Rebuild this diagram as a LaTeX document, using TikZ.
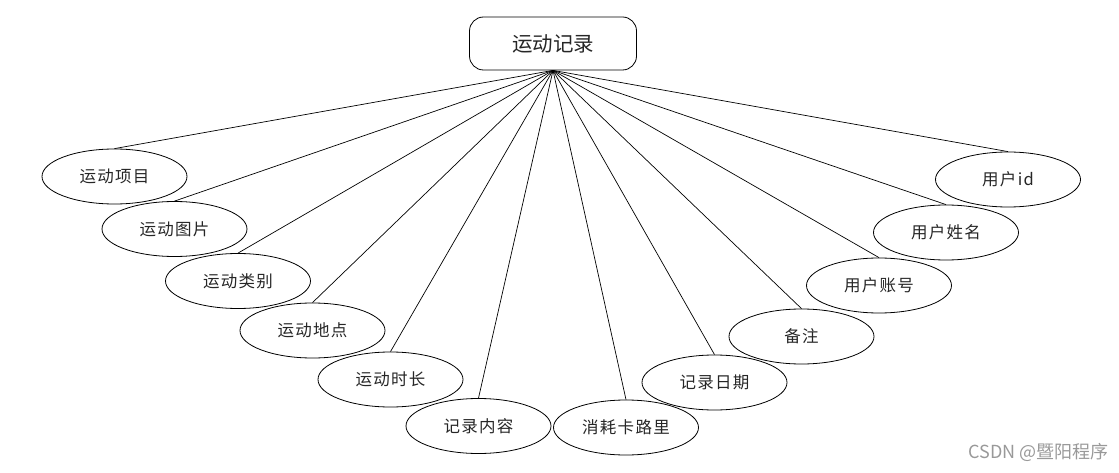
\documentclass[tikz,border=0pt]{standalone}
\usepackage{fontspec}
\newfontfamily\cjk{Noto Sans CJK SC}
\newfontfamily\cjksp[LetterSpace=8]{Noto Sans CJK SC}
\usetikzlibrary{shapes.geometric}
\begin{document}
\begin{tikzpicture}[x=1pt,y=-1pt,
  attr/.style={ellipse,draw,line width=0.8pt,minimum width=145pt,minimum height=55pt,inner sep=0pt,font=\cjksp\fontsize{16.5}{19}\selectfont,text=black!85},
  ent/.style={rectangle,rounded corners=14pt,draw,line width=0.8pt,minimum width=167pt,minimum height=53pt,font=\cjk\fontsize{20.5}{24}\selectfont,text=black!85},
  link/.style={line width=0.7pt},
  mark text/.style={font=\fontsize{18}{21}\selectfont\cjk,text=black!40}]
\useasboundingbox (0,0) rectangle (1119,473);
\node[ent] (e) at (553,43.5) {运动记录};
\node[attr] (a1) at (114.5,176.5) {运动项目};
\node[attr] (a2) at (174.5,229) {运动图片};
\node[attr] (a3) at (238,281) {运动类别};
\node[attr] (a4) at (312.5,330.5) {运动地点};
\node[attr] (a5) at (390.5,379.5) {运动时长};
\node[attr] (a6) at (478.5,426) {记录内容};
\node[attr] (a7) at (626,427.5) {消耗卡路里};
\node[attr] (a8) at (714.5,382.5) {记录日期};
\node[attr] (a9) at (801.5,336.5) {备注};
\node[attr] (a10) at (879,285.5) {用户账号};
\node[attr] (a11) at (946,232.5) {用户姓名};
\node[attr] (a12) at (1008,179.5) {用户id};
\foreach \i in {1,...,12} \draw[link] (e.south) -- (a\i.north);
\node[mark text,anchor=east] (wm) at (1112,452) {CSDN @暨阳程序};
\end{tikzpicture}
\end{document}
